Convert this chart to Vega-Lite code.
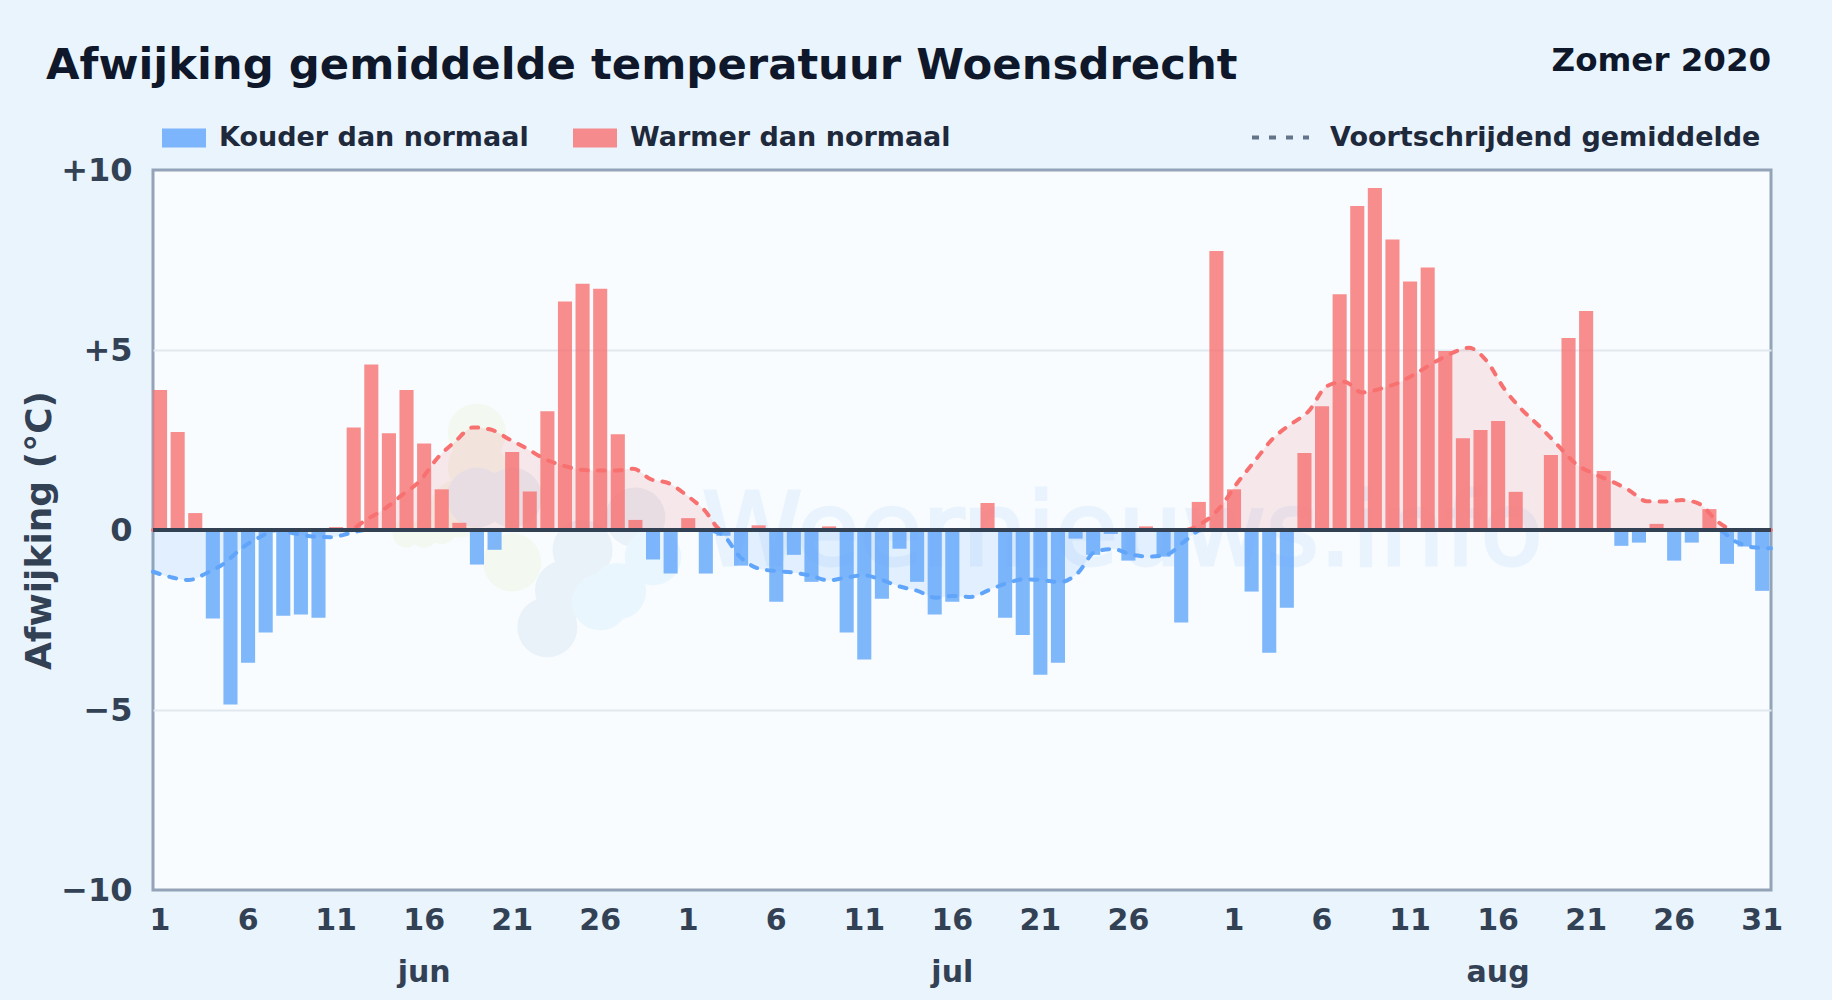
{"$schema":"https://vega.github.io/schema/vega-lite/v6.json","width":1618,"height":720,"autosize":{"type":"none"},"padding":{"left":153,"top":170,"right":61,"bottom":110},"background":"#e9f4fd",
"config":{"font":"DejaVu Sans","view":{"fill":"#f8fcff","stroke":"#94a3b8","strokeWidth":3}},
"title":{"text":"Afwijking gemiddelde temperatuur Woensdrecht","anchor":"start","frame":"group","dx":-107,"offset":-77,"baseline":"alphabetic","fontSize":43.35,"fontWeight":"bold","color":"#0f172a"},
"datasets":{
"dagen":[
{"dag":"2020-06-01","afwijking":3.89,"soort":"Warmer dan normaal","gem_warm":0,"gem_koud":-1.16},
{"dag":"2020-06-02","afwijking":2.72,"soort":"Warmer dan normaal","gem_warm":0,"gem_koud":-1.31},
{"dag":"2020-06-03","afwijking":0.47,"soort":"Warmer dan normaal","gem_warm":0,"gem_koud":-1.39},
{"dag":"2020-06-04","afwijking":-2.46,"soort":"Kouder dan normaal","gem_warm":0,"gem_koud":-1.2},
{"dag":"2020-06-05","afwijking":-4.85,"soort":"Kouder dan normaal","gem_warm":0,"gem_koud":-0.93},
{"dag":"2020-06-06","afwijking":-3.69,"soort":"Kouder dan normaal","gem_warm":0,"gem_koud":-0.5},
{"dag":"2020-06-07","afwijking":-2.85,"soort":"Kouder dan normaal","gem_warm":0,"gem_koud":-0.2},
{"dag":"2020-06-08","afwijking":-2.38,"soort":"Kouder dan normaal","gem_warm":0,"gem_koud":0},
{"dag":"2020-06-09","afwijking":-2.35,"soort":"Kouder dan normaal","gem_warm":0,"gem_koud":-0.1},
{"dag":"2020-06-10","afwijking":-2.44,"soort":"Kouder dan normaal","gem_warm":0,"gem_koud":-0.18},
{"dag":"2020-06-11","afwijking":0.08,"soort":"Warmer dan normaal","gem_warm":0,"gem_koud":-0.2},
{"dag":"2020-06-12","afwijking":2.85,"soort":"Warmer dan normaal","gem_warm":0,"gem_koud":-0.1},
{"dag":"2020-06-13","afwijking":4.6,"soort":"Warmer dan normaal","gem_warm":0.29,"gem_koud":0},
{"dag":"2020-06-14","afwijking":2.69,"soort":"Warmer dan normaal","gem_warm":0.58,"gem_koud":0},
{"dag":"2020-06-15","afwijking":3.89,"soort":"Warmer dan normaal","gem_warm":0.97,"gem_koud":0},
{"dag":"2020-06-16","afwijking":2.4,"soort":"Warmer dan normaal","gem_warm":1.36,"gem_koud":0},
{"dag":"2020-06-17","afwijking":1.13,"soort":"Warmer dan normaal","gem_warm":2.0,"gem_koud":0},
{"dag":"2020-06-18","afwijking":0.2,"soort":"Warmer dan normaal","gem_warm":2.46,"gem_koud":0},
{"dag":"2020-06-19","afwijking":-0.96,"soort":"Kouder dan normaal","gem_warm":2.85,"gem_koud":0},
{"dag":"2020-06-20","afwijking":-0.55,"soort":"Kouder dan normaal","gem_warm":2.79,"gem_koud":0},
{"dag":"2020-06-21","afwijking":2.17,"soort":"Warmer dan normaal","gem_warm":2.53,"gem_koud":0},
{"dag":"2020-06-22","afwijking":1.07,"soort":"Warmer dan normaal","gem_warm":2.27,"gem_koud":0},
{"dag":"2020-06-23","afwijking":3.3,"soort":"Warmer dan normaal","gem_warm":1.98,"gem_koud":0},
{"dag":"2020-06-24","afwijking":6.35,"soort":"Warmer dan normaal","gem_warm":1.8,"gem_koud":0},
{"dag":"2020-06-25","afwijking":6.84,"soort":"Warmer dan normaal","gem_warm":1.68,"gem_koud":0},
{"dag":"2020-06-26","afwijking":6.7,"soort":"Warmer dan normaal","gem_warm":1.65,"gem_koud":0},
{"dag":"2020-06-27","afwijking":2.66,"soort":"Warmer dan normaal","gem_warm":1.65,"gem_koud":0},
{"dag":"2020-06-28","afwijking":0.28,"soort":"Warmer dan normaal","gem_warm":1.7,"gem_koud":0},
{"dag":"2020-06-29","afwijking":-0.82,"soort":"Kouder dan normaal","gem_warm":1.41,"gem_koud":0},
{"dag":"2020-06-30","afwijking":-1.21,"soort":"Kouder dan normaal","gem_warm":1.3,"gem_koud":0},
{"dag":"2020-07-01","afwijking":0.33,"soort":"Warmer dan normaal","gem_warm":0.97,"gem_koud":0},
{"dag":"2020-07-02","afwijking":-1.21,"soort":"Kouder dan normaal","gem_warm":0.56,"gem_koud":0},
{"dag":"2020-07-03","afwijking":-0.16,"soort":"Kouder dan normaal","gem_warm":0,"gem_koud":-0.12},
{"dag":"2020-07-04","afwijking":-0.99,"soort":"Kouder dan normaal","gem_warm":0,"gem_koud":-0.74},
{"dag":"2020-07-05","afwijking":0.13,"soort":"Warmer dan normaal","gem_warm":0,"gem_koud":-1.06},
{"dag":"2020-07-06","afwijking":-1.99,"soort":"Kouder dan normaal","gem_warm":0,"gem_koud":-1.14},
{"dag":"2020-07-07","afwijking":-0.69,"soort":"Kouder dan normaal","gem_warm":0,"gem_koud":-1.18},
{"dag":"2020-07-08","afwijking":-1.44,"soort":"Kouder dan normaal","gem_warm":0,"gem_koud":-1.27},
{"dag":"2020-07-09","afwijking":0.1,"soort":"Warmer dan normaal","gem_warm":0,"gem_koud":-1.4},
{"dag":"2020-07-10","afwijking":-2.85,"soort":"Kouder dan normaal","gem_warm":0,"gem_koud":-1.32},
{"dag":"2020-07-11","afwijking":-3.6,"soort":"Kouder dan normaal","gem_warm":0,"gem_koud":-1.26},
{"dag":"2020-07-12","afwijking":-1.91,"soort":"Kouder dan normaal","gem_warm":0,"gem_koud":-1.39},
{"dag":"2020-07-13","afwijking":-0.52,"soort":"Kouder dan normaal","gem_warm":0,"gem_koud":-1.57},
{"dag":"2020-07-14","afwijking":-1.44,"soort":"Kouder dan normaal","gem_warm":0,"gem_koud":-1.69},
{"dag":"2020-07-15","afwijking":-2.35,"soort":"Kouder dan normaal","gem_warm":0,"gem_koud":-1.88},
{"dag":"2020-07-16","afwijking":-1.99,"soort":"Kouder dan normaal","gem_warm":0,"gem_koud":-1.83},
{"dag":"2020-07-17","afwijking":0,"soort":"Warmer dan normaal","gem_warm":0,"gem_koud":-1.86},
{"dag":"2020-07-18","afwijking":0.75,"soort":"Warmer dan normaal","gem_warm":0,"gem_koud":-1.67},
{"dag":"2020-07-19","afwijking":-2.44,"soort":"Kouder dan normaal","gem_warm":0,"gem_koud":-1.48},
{"dag":"2020-07-20","afwijking":-2.92,"soort":"Kouder dan normaal","gem_warm":0,"gem_koud":-1.37},
{"dag":"2020-07-21","afwijking":-4.02,"soort":"Kouder dan normaal","gem_warm":0,"gem_koud":-1.39},
{"dag":"2020-07-22","afwijking":-3.69,"soort":"Kouder dan normaal","gem_warm":0,"gem_koud":-1.45},
{"dag":"2020-07-23","afwijking":-0.24,"soort":"Kouder dan normaal","gem_warm":0,"gem_koud":-1.2},
{"dag":"2020-07-24","afwijking":-0.69,"soort":"Kouder dan normaal","gem_warm":0,"gem_koud":-0.6},
{"dag":"2020-07-25","afwijking":-0.11,"soort":"Kouder dan normaal","gem_warm":0,"gem_koud":-0.53},
{"dag":"2020-07-26","afwijking":-0.85,"soort":"Kouder dan normaal","gem_warm":0,"gem_koud":-0.68},
{"dag":"2020-07-27","afwijking":0.1,"soort":"Warmer dan normaal","gem_warm":0,"gem_koud":-0.74},
{"dag":"2020-07-28","afwijking":-0.74,"soort":"Kouder dan normaal","gem_warm":0,"gem_koud":-0.69},
{"dag":"2020-07-29","afwijking":-2.57,"soort":"Kouder dan normaal","gem_warm":0,"gem_koud":-0.32},
{"dag":"2020-07-30","afwijking":0.78,"soort":"Warmer dan normaal","gem_warm":0.19,"gem_koud":0},
{"dag":"2020-07-31","afwijking":7.75,"soort":"Warmer dan normaal","gem_warm":0.62,"gem_koud":0},
{"dag":"2020-08-01","afwijking":1.13,"soort":"Warmer dan normaal","gem_warm":1.32,"gem_koud":0},
{"dag":"2020-08-02","afwijking":-1.71,"soort":"Kouder dan normaal","gem_warm":1.94,"gem_koud":0},
{"dag":"2020-08-03","afwijking":-3.41,"soort":"Kouder dan normaal","gem_warm":2.55,"gem_koud":0},
{"dag":"2020-08-04","afwijking":-2.16,"soort":"Kouder dan normaal","gem_warm":2.94,"gem_koud":0},
{"dag":"2020-08-05","afwijking":2.14,"soort":"Warmer dan normaal","gem_warm":3.3,"gem_koud":0},
{"dag":"2020-08-06","afwijking":3.44,"soort":"Warmer dan normaal","gem_warm":3.99,"gem_koud":0},
{"dag":"2020-08-07","afwijking":6.55,"soort":"Warmer dan normaal","gem_warm":4.12,"gem_koud":0},
{"dag":"2020-08-08","afwijking":9.0,"soort":"Warmer dan normaal","gem_warm":3.82,"gem_koud":0},
{"dag":"2020-08-09","afwijking":9.5,"soort":"Warmer dan normaal","gem_warm":3.92,"gem_koud":0},
{"dag":"2020-08-10","afwijking":8.07,"soort":"Warmer dan normaal","gem_warm":4.08,"gem_koud":0},
{"dag":"2020-08-11","afwijking":6.9,"soort":"Warmer dan normaal","gem_warm":4.34,"gem_koud":0},
{"dag":"2020-08-12","afwijking":7.29,"soort":"Warmer dan normaal","gem_warm":4.64,"gem_koud":0},
{"dag":"2020-08-13","afwijking":4.97,"soort":"Warmer dan normaal","gem_warm":4.9,"gem_koud":0},
{"dag":"2020-08-14","afwijking":2.55,"soort":"Warmer dan normaal","gem_warm":5.06,"gem_koud":0},
{"dag":"2020-08-15","afwijking":2.78,"soort":"Warmer dan normaal","gem_warm":4.7,"gem_koud":0},
{"dag":"2020-08-16","afwijking":3.03,"soort":"Warmer dan normaal","gem_warm":3.92,"gem_koud":0},
{"dag":"2020-08-17","afwijking":1.06,"soort":"Warmer dan normaal","gem_warm":3.34,"gem_koud":0},
{"dag":"2020-08-18","afwijking":0,"soort":"Warmer dan normaal","gem_warm":2.87,"gem_koud":0},
{"dag":"2020-08-19","afwijking":2.08,"soort":"Warmer dan normaal","gem_warm":2.36,"gem_koud":0},
{"dag":"2020-08-20","afwijking":5.33,"soort":"Warmer dan normaal","gem_warm":1.85,"gem_koud":0},
{"dag":"2020-08-21","afwijking":6.08,"soort":"Warmer dan normaal","gem_warm":1.57,"gem_koud":0},
{"dag":"2020-08-22","afwijking":1.64,"soort":"Warmer dan normaal","gem_warm":1.36,"gem_koud":0},
{"dag":"2020-08-23","afwijking":-0.44,"soort":"Kouder dan normaal","gem_warm":1.11,"gem_koud":0},
{"dag":"2020-08-24","afwijking":-0.35,"soort":"Kouder dan normaal","gem_warm":0.8,"gem_koud":0},
{"dag":"2020-08-25","afwijking":0.17,"soort":"Warmer dan normaal","gem_warm":0.79,"gem_koud":0},
{"dag":"2020-08-26","afwijking":-0.85,"soort":"Kouder dan normaal","gem_warm":0.83,"gem_koud":0},
{"dag":"2020-08-27","afwijking":-0.35,"soort":"Kouder dan normaal","gem_warm":0.72,"gem_koud":0},
{"dag":"2020-08-28","afwijking":0.58,"soort":"Warmer dan normaal","gem_warm":0.23,"gem_koud":0},
{"dag":"2020-08-29","afwijking":-0.94,"soort":"Kouder dan normaal","gem_warm":0,"gem_koud":-0.32},
{"dag":"2020-08-30","afwijking":-0.46,"soort":"Kouder dan normaal","gem_warm":0,"gem_koud":-0.48},
{"dag":"2020-08-31","afwijking":-1.69,"soort":"Kouder dan normaal","gem_warm":0,"gem_koud":-0.51}
],
"maanden":[{"dag":"2020-06-16","waarde":-12.55,"tekst":"jun"},{"dag":"2020-07-16","waarde":-12.55,"tekst":"jul"},{"dag":"2020-08-16","waarde":-12.55,"tekst":"aug"}],
"periode":[{"dag":"2020-08-31","waarde":12.75,"tekst":"Zomer 2020"}],
"watermerk":[{"dag":"2020-07-26","waarde":-0.97,"tekst":"Weernieuws.info"}],
"nullijn":[{"waarde":0}],
"logoGroen":[{"dag":"2020-06-19","waarde":2.7},{"dag":"2020-06-19","waarde":1.75},{"dag":"2020-06-18","waarde":0.6},{"dag":"2020-06-21","waarde":-0.9}],
"logoGroenKlein":[{"dag":"2020-06-15","waarde":-0.1},{"dag":"2020-06-16","waarde":-0.1},{"dag":"2020-06-17","waarde":0}],
"logoGrijs":[{"dag":"2020-06-19","waarde":0.9},{"dag":"2020-06-21","waarde":0.9},{"dag":"2020-06-25","waarde":-0.55},{"dag":"2020-06-24","waarde":-1.67},{"dag":"2020-06-23","waarde":-2.7},{"dag":"2020-06-28","waarde":0.35}],
"logoBlauw":[{"dag":"2020-06-26","waarde":-2},{"dag":"2020-06-27","waarde":-1.7},{"dag":"2020-06-29","waarde":-0.75}]
},
"resolve":{"scale":{"x":"independent"},"axis":{"y":"independent"}},
"layer":[
{"resolve":{"axis":{"x":"independent","y":"independent"}},"layer":[
{"data":{"name":"dagen"},"mark":{"type":"rule","opacity":0},"encoding":{"x":{"field":"dag","type":"ordinal","axis":null,"scale":{"type":"band","paddingInner":0.2,"paddingOuter":0.05,"align":0}}}},
{"data":{"name":"logoGroen"},"mark":{"type":"point","filled":true,"size":3400,"color":"#f3f9f0","opacity":1,"shape":"circle"},"encoding":{"x":{"field":"dag","type":"ordinal","axis":null},"y":{"field":"waarde","type":"quantitative","axis":null,"scale":{"domain":[-10,10],"nice":false}}}},
{"data":{"name":"logoGroenKlein"},"mark":{"type":"point","filled":true,"size":800,"color":"#f3f9f0","opacity":1,"shape":"circle"},"encoding":{"x":{"field":"dag","type":"ordinal","axis":null},"y":{"field":"waarde","type":"quantitative","axis":null}}},
{"data":{"name":"logoGrijs"},"mark":{"type":"point","filled":true,"size":3600,"color":"#e9f1f9","opacity":1,"shape":"circle"},"encoding":{"x":{"field":"dag","type":"ordinal","axis":null},"y":{"field":"waarde","type":"quantitative","axis":null}}},
{"data":{"name":"logoBlauw"},"mark":{"type":"point","filled":true,"size":3200,"color":"#eaf6fe","opacity":1,"shape":"circle"},"encoding":{"x":{"field":"dag","type":"ordinal","axis":null},"y":{"field":"waarde","type":"quantitative","axis":null}}},
{"data":{"name":"watermerk"},"mark":{"type":"text","fontSize":102,"color":"#60a5fa","stroke":"#60a5fa","strokeWidth":3,"opacity":0.09,"align":"center","baseline":"alphabetic","dx":-6},"encoding":{"x":{"field":"dag","type":"ordinal","axis":null},"y":{"field":"waarde","type":"quantitative","axis":null},"text":{"field":"tekst"}}}
]},
{"data":{"name":"dagen"},"resolve":{"axis":{"x":"independent","y":"independent"}},"layer":[
{"mark":{"type":"area","color":"#ef4444","opacity":0.11,"interpolate":"monotone"},"encoding":{"x":{"field":"dag","type":"ordinal","axis":null,"scale":{"type":"point","padding":0}},"y":{"field":"gem_warm","type":"quantitative","axis":null,"stack":false}}},
{"mark":{"type":"area","color":"#60a5fa","opacity":0.15,"interpolate":"monotone"},"encoding":{"x":{"field":"dag","type":"ordinal","axis":null},"y":{"field":"gem_koud","type":"quantitative","axis":null,"stack":false}}}
]},
{"resolve":{"axis":{"x":"independent","y":"independent"}},"layer":[
{"data":{"name":"dagen"},"mark":{"type":"bar","opacity":0.8},"encoding":{
"x":{"field":"dag","type":"ordinal","title":null,"scale":{"type":"band","paddingInner":0.2,"paddingOuter":0.05,"align":0},"axis":{"values":["2020-06-01","2020-06-06","2020-06-11","2020-06-16","2020-06-21","2020-06-26","2020-07-01","2020-07-06","2020-07-11","2020-07-16","2020-07-21","2020-07-26","2020-08-01","2020-08-06","2020-08-11","2020-08-16","2020-08-21","2020-08-26","2020-08-31"],"labelExpr":"parseInt(slice(datum.value,8))+''","labelAngle":0,"labelFontSize":30,"labelFontWeight":"bold","labelColor":"#334155","ticks":false,"domain":false,"labelPadding":15,"grid":false,"labelOverlap":false}},
"y":{"field":"afwijking","type":"quantitative","stack":false,"scale":{"domain":[-10,10],"nice":false},"title":"Afwijking (°C)","axis":{"values":[-10,-5,0,5,10],"labelExpr":"datum.value>0?'+'+datum.value:(datum.value<0?'−'+abs(datum.value):'0')","labelFontSize":32,"labelFontWeight":"bold","labelColor":"#334155","ticks":false,"domain":false,"labelPadding":21,"grid":true,"gridColor":"#e2e8f0","gridWidth":2,"gridOpacity":{"condition":{"test":"abs(datum.value)==10","value":0},"value":1},"titleFontSize":36,"titleFontWeight":"bold","titleColor":"#334155","titleX":-103,"titleBaseline":"alphabetic"}},
"color":{"field":"soort","type":"nominal","scale":{"domain":["Kouder dan normaal","Warmer dan normaal"],"range":["#60a5fa","#f87171"]},"legend":{"title":null,"orient":"none","legendX":9,"legendY":-54,"direction":"horizontal","symbolType":"M-1,-0.43H1V0.43H-1Z","symbolSize":1936,"symbolOpacity":0.8,"symbolStrokeWidth":0,"labelOffset":13,"labelFontSize":27,"labelFontWeight":"bold","labelColor":"#1e293b","columnPadding":44,"labelLimit":500}}}},
{"data":{"name":"maanden"},"mark":{"type":"text","fontSize":30,"fontWeight":"bold","color":"#334155","baseline":"alphabetic"},"encoding":{"x":{"field":"dag","type":"ordinal","axis":null},"y":{"field":"waarde","type":"quantitative","axis":null},"text":{"field":"tekst"}}},
{"data":{"name":"periode"},"mark":{"type":"text","fontSize":32.5,"fontWeight":"bold","color":"#0f172a","baseline":"alphabetic","align":"right","dx":9},"encoding":{"x":{"field":"dag","type":"ordinal","axis":null},"y":{"field":"waarde","type":"quantitative","axis":null},"text":{"field":"tekst"}}}
]},
{"data":{"name":"dagen"},"resolve":{"axis":{"x":"independent","y":"independent"}},"layer":[
{"mark":{"type":"line","color":"#f87171","strokeWidth":4,"interpolate":"monotone","strokeCap":"round"},"encoding":{"x":{"field":"dag","type":"ordinal","axis":null,"scale":{"type":"point","padding":0}},"y":{"field":"gem_warm","type":"quantitative","axis":null},"strokeDash":{"datum":"Voortschrijdend gemiddelde","scale":{"domain":["Voortschrijdend gemiddelde"],"range":[[7,10]]},"legend":{"title":null,"orient":"none","legendX":1097,"legendY":-63,"symbolType":"stroke","symbolSize":3249,"symbolDash":[1,15.5],"symbolStrokeColor":"#64748b","symbolStrokeWidth":4,"labelOffset":19,"labelFontSize":27,"labelFontWeight":"bold","labelColor":"#1e293b","labelLimit":600,"encode":{"symbols":{"update":{"stroke":{"value":"#64748b"}}}}}}}},
{"mark":{"type":"line","color":"#60a5fa","strokeWidth":4,"interpolate":"monotone","strokeCap":"round"},"encoding":{"x":{"field":"dag","type":"ordinal","axis":null},"y":{"field":"gem_koud","type":"quantitative","axis":null},"strokeDash":{"datum":"Voortschrijdend gemiddelde"}}}
]},
{"data":{"name":"nullijn"},"mark":{"type":"rule","color":"#334155","strokeWidth":4},"encoding":{"y":{"field":"waarde","type":"quantitative","axis":null}}}
]}
